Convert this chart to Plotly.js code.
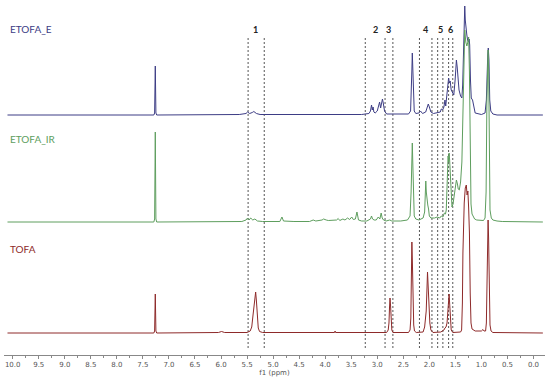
<!DOCTYPE html>
<html>
<head>
<meta charset="utf-8">
<script src="https://cdn.plot.ly/plotly-3.0.1.min.js"></script>
<style>html,body{margin:0;padding:0;background:#fff;}#chart{width:550px;height:378px;}</style>
</head>
<body>
<div id="chart"></div>
<script>
// ETOFA_E spectrum (ppm, relative intensity)
var etofaE_ppm = [10.10, 7.29, 7.275, 7.262, 7.25, 7.235, 5.65, 5.52, 5.49, 5.45, 5.40, 5.37, 5.32, 5.25, 3.30, 3.16, 3.13, 3.11, 3.095, 3.08, 3.065, 3.04, 3.00, 2.97, 2.955, 2.935, 2.915, 2.90, 2.885, 2.86, 2.82, 2.50, 2.40, 2.36, 2.345, 2.335, 2.327, 2.318, 2.305, 2.29, 2.26, 2.20, 2.17, 2.13, 2.07, 2.04, 2.02, 2.00, 1.97, 1.92, 1.85, 1.79, 1.77, 1.745, 1.72, 1.70, 1.685, 1.665, 1.645, 1.63, 1.615, 1.60, 1.58, 1.555, 1.53, 1.505, 1.48, 1.465, 1.45, 1.43, 1.40, 1.375, 1.36, 1.345, 1.33, 1.32, 1.31, 1.295, 1.28, 1.265, 1.25, 1.235, 1.225, 1.21, 1.195, 1.17, 1.15, 1.12, 1.00, 0.93, 0.905, 0.89, 0.878, 0.868, 0.855, 0.84, 0.82, 0.78, 0.70, -0.18];
var etofaE_int = [0, 0, 2, 49, 2, 0, 0.5, 1.5, 3, 1.5, 2.5, 3.5, 1.5, 0.5, 0.5, 1.5, 4, 10, 5, 8, 3, 2, 4, 9, 13, 7, 14, 16, 12, 4, 1, 0.5, 1, 4, 20, 45, 62, 48, 15, 4, 1.5, 2, 4, 1.5, 3, 7, 11, 8, 3, 1.5, 2, 3, 6, 5, 8, 15, 9, 20, 30, 37, 32, 34, 25, 22, 20, 35, 55, 48, 35, 25, 19, 17, 30, 70, 100, 109, 95, 82, 80, 75, 73, 76, 70, 35, 17, 15, 8, 2, 0.5, 2, 15, 50, 60, 67, 55, 15, 4, 1, 0, 0];

// ETOFA_IR spectrum
var etofaIR_ppm = [10.10, 7.29, 7.275, 7.262, 7.25, 7.235, 5.60, 5.52, 5.49, 5.46, 5.43, 5.39, 5.35, 5.30, 5.20, 4.87, 4.83, 4.80, 4.60, 4.30, 4.23, 4.18, 4.06, 4.03, 3.98, 3.94, 3.78, 3.75, 3.72, 3.66, 3.62, 3.57, 3.53, 3.49, 3.46, 3.42, 3.39, 3.36, 3.30, 3.20, 3.13, 3.11, 3.09, 3.06, 3.02, 2.98, 2.95, 2.925, 2.905, 2.88, 2.83, 2.76, 2.72, 2.55, 2.42, 2.37, 2.35, 2.335, 2.327, 2.318, 2.305, 2.29, 2.26, 2.20, 2.16, 2.12, 2.09, 2.075, 2.068, 2.058, 2.045, 2.03, 2.015, 2.00, 1.97, 1.90, 1.85, 1.80, 1.77, 1.74, 1.71, 1.69, 1.675, 1.665, 1.65, 1.64, 1.63, 1.62, 1.61, 1.60, 1.585, 1.565, 1.545, 1.52, 1.50, 1.48, 1.46, 1.445, 1.425, 1.40, 1.375, 1.355, 1.335, 1.32, 1.30, 1.28, 1.26, 1.245, 1.23, 1.215, 1.20, 1.18, 1.16, 1.13, 1.09, 0.96, 0.93, 0.91, 0.895, 0.882, 0.872, 0.86, 0.848, 0.835, 0.81, 0.78, 0.70, 0.60, -0.18];
var etofaIR_int = [0, 0, 3, 90, 3, 0, 0.5, 2, 4, 2, 4, 2, 3, 1, 0.5, 0.5, 5, 1, 0.5, 0.5, 2, 1, 2, 3, 2, 1.5, 2, 3.5, 1.5, 3, 2, 4, 2.5, 5, 2.5, 3, 10, 2, 1, 1, 3, 6, 3, 2, 2, 5, 3, 9, 4, 2, 1, 2, 1, 1, 2, 6, 30, 65, 79, 60, 20, 6, 3, 2, 3, 4, 10, 30, 41, 30, 18, 17, 13, 6, 4, 4, 5, 4, 6, 5, 9, 8, 12, 30, 55, 66, 60, 69, 62, 50, 25, 15, 18, 28, 38, 42, 38, 33, 32, 40, 60, 110, 170, 192, 180, 176, 180, 185, 150, 60, 18, 8, 6, 3, 2, 1.5, 4, 30, 120, 165, 172, 150, 60, 12, 4, 2, 1, 0.5, 0];

// TOFA spectrum
var tofa_ppm = [10.10, 7.29, 7.275, 7.262, 7.25, 7.235, 6.05, 5.99, 5.93, 5.50, 5.44, 5.41, 5.385, 5.365, 5.35, 5.335, 5.32, 5.305, 5.285, 5.26, 5.20, 3.82, 3.81, 3.80, 2.82, 2.79, 2.775, 2.765, 2.755, 2.745, 2.735, 2.72, 2.70, 2.40, 2.37, 2.355, 2.345, 2.335, 2.325, 2.315, 2.30, 2.285, 2.25, 2.12, 2.09, 2.075, 2.06, 2.045, 2.035, 2.025, 2.015, 2.005, 1.99, 1.97, 1.93, 1.78, 1.72, 1.70, 1.68, 1.66, 1.645, 1.63, 1.62, 1.61, 1.595, 1.58, 1.55, 1.40, 1.38, 1.365, 1.355, 1.345, 1.33, 1.31, 1.29, 1.275, 1.26, 1.245, 1.23, 1.215, 1.20, 1.18, 1.12, 1.00, 0.97, 0.95, 0.92, 0.905, 0.89, 0.88, 0.872, 0.862, 0.85, 0.835, 0.815, 0.78, -0.18];
var tofa_int = [0, 0, 2, 39, 2, 0, 0.5, 1.5, 0.5, 0.5, 2, 6, 18, 30, 35, 41, 32, 15, 5, 1.5, 0.5, 0.5, 2, 0.5, 0.5, 3, 10, 25, 35, 28, 10, 3, 0.5, 0.5, 3, 15, 55, 91, 70, 35, 8, 2, 0.5, 1, 6, 14, 22, 45, 61, 50, 35, 23, 10, 3, 0.5, 1, 3, 5, 6, 10, 20, 35, 39, 30, 12, 3, 0.5, 1, 3, 30, 80, 110, 130, 145, 148, 138, 142, 125, 100, 40, 10, 4, 2, 2, 3.5, 2, 2, 10, 60, 105, 113, 95, 40, 8, 2, 0.5, 0];

var seriesNames = ["ETOFA_E", "ETOFA_IR", "TOFA"];
var seriesColors = ["#3d3d85", "#5e9e5e", "#8e2a2a"];
var seriesOffsets = [240, 133, 22];

// marked regions (ppm) and their labels
var dashPpm = [5.48, 5.17, 3.23, 2.85, 2.70, 2.19, 1.95, 1.84, 1.74, 1.63, 1.55];
var regionLabels = ["1", "2", "3", "4", "5", "6"];
var regionLabelPpm = [5.33, 3.04, 2.775, 2.07, 1.79, 1.59];

var xs = [etofaE_ppm, etofaIR_ppm, tofa_ppm];
var ys = [etofaE_int, etofaIR_int, tofa_int];

var traces = [];
for (var i = 0; i < 3; i++) {
  traces.push({
    x: xs[i],
    y: ys[i].map(function (v) { return v + seriesOffsets[i]; }),
    type: "scatter",
    mode: "lines",
    name: seriesNames[i],
    line: {color: seriesColors[i], width: 1},
    hoverinfo: "skip"
  });
}

var shapes = dashPpm.map(function (p) {
  return {type: "line", xref: "x", yref: "y", x0: p, x1: p, y0: 7, y1: 318,
          line: {color: "#555", width: 1, dash: "2px,2px"}, layer: "below"};
});

var annotations = [];
for (var j = 0; j < 3; j++) {
  annotations.push({xref: "paper", yref: "y", x: 0.008, y: [326, 216, 106][j],
    xanchor: "left", yanchor: "middle", showarrow: false, text: seriesNames[j],
    font: {family: "Lato, 'Open Sans', sans-serif", size: 10, color: seriesColors[j]}});
}
for (var k = 0; k < regionLabels.length; k++) {
  annotations.push({xref: "x", yref: "y", x: regionLabelPpm[k], y: 326,
    xanchor: "center", yanchor: "middle", showarrow: false, text: "<b>" + regionLabels[k] + "</b>",
    font: {family: "Lato, 'Open Sans', sans-serif", size: 9, color: "#222"}});
}

var layout = {
  width: 550, height: 378,
  margin: {l: 4, r: 5, t: 0, b: 23},
  paper_bgcolor: "#fff", plot_bgcolor: "#fff",
  showlegend: false,
  xaxis: {
    range: [10.167, -0.221],
    showgrid: false, zeroline: false,
    showline: true, linecolor: "#888", linewidth: 1,
    ticks: "outside", ticklen: 3, tickcolor: "#888",
    tick0: 0, dtick: 0.5, tickformat: ".1f",
    minor: {ticks: "outside", ticklen: 2, dtick: 0.25, tickcolor: "#888"},
    tickfont: {family: "DejaVu Sans", size: 7, color: "#555"},
    title: {text: "f1 (ppm)", standoff: 0, font: {family: "DejaVu Sans", size: 7, color: "#555"}}
  },
  yaxis: {range: [0, 355], visible: false, fixedrange: true},
  shapes: shapes,
  annotations: annotations
};

Plotly.newPlot("chart", traces, layout, {displayModeBar: false, staticPlot: true});
</script>
</body>
</html>
